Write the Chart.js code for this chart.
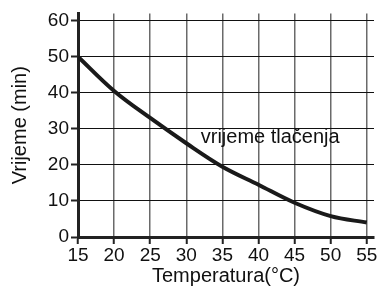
<!DOCTYPE html>
<html>
<head>
<meta charset="utf-8">
<script src="https://cdn.jsdelivr.net/npm/chart.js@4/dist/chart.umd.min.js"></script>
<style>
  html, body { margin: 0; padding: 0; background: #fff; }
  #wrap { width: 382px; height: 288px; }
</style>
</head>
<body>
<div id="wrap"><canvas id="c" width="382" height="288"></canvas></div>
<script>
// temperature (°C) and pressing time (min)
const temps = [15, 20, 25, 30, 35, 40, 45, 50, 55];
const times = [50, 40.5, 33, 26, 19.5, 14.5, 9.5, 5.8, 4];
const xTicks = [15, 20, 25, 30, 35, 40, 45, 50, 55];
const yTicks = [0, 10, 20, 30, 40, 50, 60];
const seriesLabel = "vrijeme tlačenja";

const FONT = "'Liberation Sans', Arial, sans-serif";

// draws the series name inside the plot
const seriesLabelPlugin = {
    id: "seriesLabel",
    afterDatasetsDraw(chart) {
        const { ctx, scales } = chart;
        ctx.save();
        ctx.font = "20px " + FONT;
        ctx.fillStyle = "#111";
        ctx.textBaseline = "alphabetic";
        ctx.fillText(seriesLabel, scales.x.getPixelForValue(32), scales.y.getPixelForValue(26));
        ctx.restore();
    }
};

new Chart(document.getElementById("c"), {
    type: "line",
    data: {
        datasets: [{
            label: seriesLabel,
            data: temps.map((t, i) => ({ x: t, y: times[i] })),
            borderColor: "#1a1a1a",
            borderWidth: 4,
            pointRadius: 0,
            tension: 0.35,
            fill: false,
        }],
    },
    options: {
        responsive: false,
        animation: false,
        layout: { padding: { top: 8, right: 8, left: 8, bottom: 0 } },
        plugins: {
            legend: { display: false },
            tooltip: { enabled: false },
        },
        scales: {
            x: {
                type: "linear",
                min: 15,
                max: 56,
                afterBuildTicks: (s) => { s.ticks = xTicks.map(v => ({ value: v })); },
                afterFit: (s) => { s.height = 51; },
                ticks: {
                    color: "#111",
                    font: { family: FONT, size: 19 },
                    padding: 0,
                    maxRotation: 0,
                },
                grid: {
                    color: "#6a6a6a",
                    lineWidth: 1.5,
                    tickLength: 7,
                    tickColor: "#222",
                    tickWidth: 2,
                },
                border: { color: "#222", width: 3 },
                title: {
                    display: true,
                    text: "Temperatura(°C)",
                    color: "#111",
                    font: { family: FONT, size: 20 },
                    padding: { top: -5, bottom: 0 },
                },
            },
            y: {
                min: 0,
                max: 62,
                afterBuildTicks: (s) => { s.ticks = yTicks.map(v => ({ value: v })); },
                afterFit: (s) => { s.width = 70; },
                ticks: {
                    color: "#111",
                    font: { family: FONT, size: 19 },
                    padding: 2,
                },
                grid: {
                    color: "#111",
                    lineWidth: 1,
                    tickLength: 7,
                    tickColor: "#222",
                    tickWidth: 2,
                },
                border: { color: "#222", width: 3 },
                title: {
                    display: true,
                    text: "Vrijeme (min)",
                    color: "#111",
                    font: { family: FONT, size: 20 },
                    padding: { top: 0, bottom: 0 },
                },
            },
        },
    },
    plugins: [seriesLabelPlugin],
});
</script>
</body>
</html>
